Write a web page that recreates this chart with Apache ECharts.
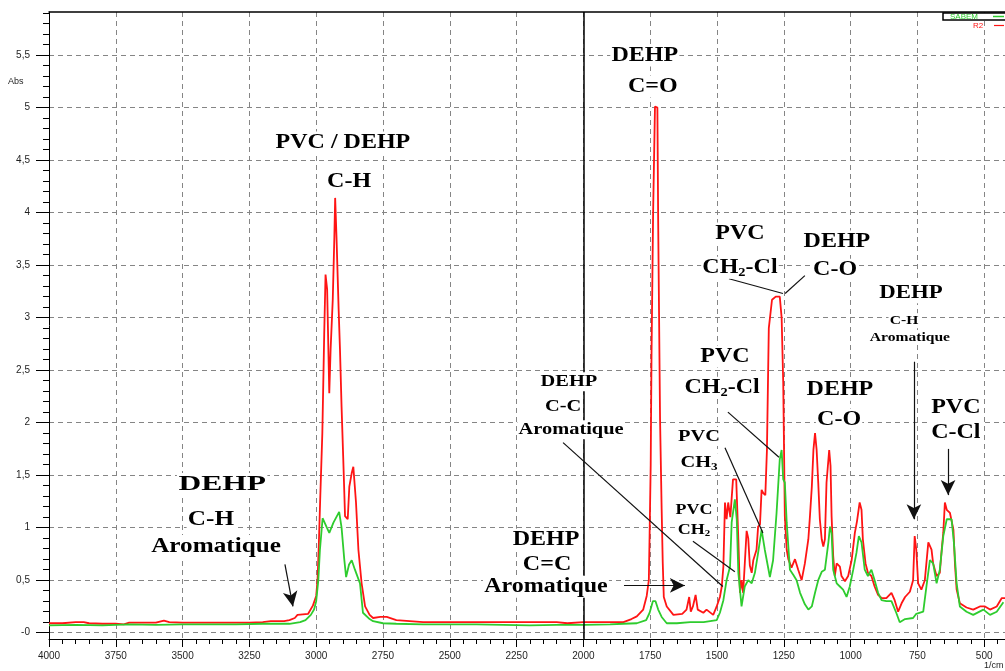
<!DOCTYPE html>
<html><head><meta charset="utf-8">
<script src="https://cdn.jsdelivr.net/npm/echarts@6/dist/echarts.min.js"></script>
<style>html,body{margin:0;padding:0;background:#fff}#c{width:1005px;height:671px}</style>
</head><body><div id="c"></div>
<script>
// ---------- data ----------
const seriesNames = ['SABEM', 'R2'];
const xMajorTicks = [4000, 3750, 3500, 3250, 3000, 2750, 2500, 2250, 2000, 1750, 1500, 1250, 1000, 750, 500];
const yMajorTicks = [0, 0.5, 1, 1.5, 2, 2.5, 3, 3.5, 4, 4.5, 5, 5.5];
const yTickLabels = ['-0', '0,5', '1', '1,5', '2', '2,5', '3', '3,5', '4', '4,5', '5', '5,5'];

// red spectrum (R2): [wavenumber, absorbance]
const redSpectrum = [
[4000,0.09],[3950,0.09],[3900,0.10],[3870,0.10],[3850,0.09],[3800,0.085],[3750,0.085],[3720,0.08],[3700,0.095],
[3650,0.095],[3600,0.095],[3570,0.115],[3550,0.10],[3500,0.095],[3400,0.095],[3300,0.095],[3250,0.095],[3200,0.10],
[3170,0.11],[3150,0.11],[3120,0.11],[3100,0.12],[3080,0.14],[3070,0.17],[3030,0.18],[3012,0.26],[3000,0.35],
[2995,0.5],[2990,0.85],[2985,1.27],[2977,1.9],[2970,2.84],[2965,3.41],[2959,3.27],[2951,2.28],[2946,2.7],[2938,3.17],
[2932,3.77],[2929,4.14],[2924,3.77],[2916,3.08],[2911,2.7],[2905,2.15],[2899,1.68],[2892,1.11],[2882,1.08],[2876,1.39],
[2867,1.52],[2861,1.58],[2851,1.24],[2842,0.79],[2830,0.47],[2817,0.25],[2800,0.17],[2787,0.14],[2760,0.15],[2736,0.15],
[2700,0.12],[2650,0.11],[2600,0.10],[2500,0.10],[2400,0.10],[2300,0.10],[2200,0.10],[2100,0.10],[2060,0.09],[2000,0.10],
[1900,0.10],[1850,0.10],[1820,0.13],[1800,0.155],[1776,0.22],[1763,0.35],[1755,0.5],[1752,0.95],[1748,1.6],[1745,2.63],
[1739,4.0],[1732,5.01],[1723,5.0],[1720,3.9],[1713,2.03],[1707,1.17],[1703,0.67],[1699,0.34],[1688,0.25],[1663,0.17],
[1630,0.18],[1614,0.22],[1604,0.34],[1598,0.2],[1590,0.25],[1580,0.36],[1572,0.22],[1551,0.19],[1539,0.22],[1514,0.17],
[1501,0.25],[1489,0.34],[1482,0.44],[1476,0.63],[1470,1.24],[1464,1.08],[1458,1.24],[1450,1.1],[1440,1.46],[1428,1.46],
[1420,0.89],[1414,0.38],[1408,0.5],[1402,0.38],[1389,0.97],[1383,0.9],[1377,0.64],[1370,0.57],[1364,0.69],[1352,0.79],
[1346,1.01],[1339,1.03],[1333,1.36],[1327,1.33],[1319,1.31],[1313,1.74],[1306,2.9],[1294,3.17],[1280,3.2],[1265,3.2],
[1258,3.0],[1252,2.38],[1246,1.11],[1239,0.79],[1233,0.7],[1221,0.62],[1208,0.7],[1196,0.6],[1183,0.5],[1171,0.66],
[1158,0.89],[1152,1.11],[1145,1.39],[1139,1.74],[1133,1.9],[1127,1.74],[1121,1.43],[1115,1.08],[1108,0.89],[1102,0.82],
[1096,0.89],[1090,1.43],[1080,1.74],[1075,1.59],[1071,1.11],[1065,0.73],[1059,0.54],[1052,0.66],[1040,0.63],[1034,0.54],
[1021,0.49],[1009,0.54],[996,0.69],[984,0.95],[976,1.06],[966,1.24],[959,1.17],[954,0.89],[944,0.66],[935,0.57],
[922,0.54],[910,0.44],[897,0.36],[884,0.33],[866,0.33],[847,0.38],[835,0.31],[822,0.2],[809,0.28],[796,0.34],
[778,0.39],[766,0.5],[760,0.92],[754,0.79],[747,0.47],[735,0.41],[722,0.5],[709,0.86],[697,0.79],[691,0.66],
[678,0.54],[666,0.57],[659,0.79],[653,0.95],[647,1.24],[640,1.17],[628,1.14],[622,1.14],[615,0.98],[609,0.64],
[603,0.41],[591,0.28],[566,0.24],[541,0.22],[516,0.25],[497,0.25],[478,0.22],[453,0.25],[434,0.33],[422,0.33]
];

// green spectrum (SABEM): [wavenumber, absorbance]
const greenSpectrum = [
[4000,0.07],[3900,0.075],[3800,0.07],[3750,0.075],[3700,0.08],[3600,0.075],[3500,0.08],[3400,0.08],[3300,0.08],
[3200,0.085],[3100,0.085],[3060,0.10],[3040,0.12],[3020,0.17],[3008,0.22],[3000,0.3],[2992,0.5],[2986,0.79],[2976,1.09],
[2960,1.0],[2951,0.95],[2935,1.05],[2914,1.15],[2905,1.0],[2895,0.7],[2888,0.53],[2877,0.65],[2867,0.69],[2855,0.6],
[2836,0.47],[2825,0.19],[2800,0.13],[2787,0.11],[2750,0.09],[2700,0.085],[2600,0.08],[2500,0.08],[2400,0.08],[2300,0.075],
[2200,0.07],[2100,0.075],[2000,0.075],[1900,0.08],[1850,0.085],[1800,0.09],[1765,0.12],[1752,0.19],[1740,0.3],[1730,0.3],
[1720,0.22],[1707,0.15],[1688,0.09],[1650,0.09],[1600,0.10],[1550,0.10],[1501,0.12],[1489,0.19],[1476,0.31],[1464,0.5],
[1451,0.63],[1445,1.05],[1433,1.27],[1426,1.08],[1420,0.57],[1408,0.25],[1396,0.44],[1383,0.5],[1370,0.47],[1358,0.57],
[1346,0.76],[1333,0.98],[1321,0.79],[1302,0.53],[1290,0.69],[1277,1.14],[1265,1.65],[1258,1.74],[1252,1.46],[1246,1.43],
[1239,1.05],[1227,0.6],[1214,0.55],[1202,0.5],[1189,0.38],[1171,0.27],[1158,0.22],[1145,0.25],[1133,0.38],[1121,0.5],
[1108,0.58],[1096,0.6],[1083,0.86],[1077,1.01],[1071,0.95],[1065,0.6],[1052,0.47],[1040,0.44],[1028,0.41],[1015,0.34],
[1003,0.44],[990,0.6],[978,0.76],[969,0.92],[959,0.86],[947,0.6],[935,0.54],[922,0.6],[910,0.5],[897,0.38],
[884,0.31],[866,0.3],[847,0.3],[829,0.19],[816,0.1],[796,0.13],[766,0.14],[754,0.18],[728,0.2],[716,0.44],
[703,0.69],[691,0.66],[678,0.47],[666,0.6],[653,0.92],[640,1.08],[622,1.08],[613,0.85],[603,0.47],[591,0.25],
[566,0.2],[541,0.17],[503,0.22],[478,0.17],[453,0.2],[428,0.29]
];

// annotation texts (data coordinates of text centres)
const annotTexts = [
  {t:'DEHP', x:3352, y:1.41, s:21, k:1.5}, {t:'C-H', x:3394, y:1.076, s:21}, {t:'Aromatique', x:3375, y:0.82, s:21},
  {t:'PVC / DEHP', x:2900, y:4.667, s:20}, {t:'C-H', x:2877, y:4.295, s:20},
  {t:'DEHP', x:1770, y:5.495, s:20}, {t:'C=O', x:1740, y:5.2, s:20},
  {t:'PVC', x:1414, y:3.8, s:20}, {t:'CH|2|-Cl', x:1414, y:3.476, s:20},
  {t:'DEHP', x:1051, y:3.724, s:20}, {t:'C-O', x:1058, y:3.457, s:20},
  {t:'DEHP', x:774, y:3.238, s:19}, {t:'C-H', x:800, y:2.971, s:13}, {t:'Aromatique', x:778, y:2.81, s:13},
  {t:'PVC', x:1470, y:2.629, s:20}, {t:'CH|2|-Cl', x:1481, y:2.333, s:20},
  {t:'DEHP', x:1040, y:2.314, s:20}, {t:'C-O', x:1043, y:2.029, s:20},
  {t:'PVC', x:606, y:2.143, s:20}, {t:'C-Cl', x:606, y:1.905, s:20},
  {t:'DEHP', x:2054, y:2.39, s:17}, {t:'C-C', x:2076, y:2.152, s:17}, {t:'Aromatique', x:2046, y:1.933, s:17},
  {t:'PVC', x:1567, y:1.867, s:17}, {t:'CH|3|', x:1567, y:1.619, s:17},
  {t:'PVC', x:1586, y:1.171, s:15}, {t:'CH|2|', x:1586, y:0.981, s:15},
  {t:'DEHP', x:2140, y:0.886, s:20}, {t:'C=C', x:2136, y:0.648, s:20}, {t:'Aromatique', x:2140, y:0.438, s:20}
];
// pointer lines / arrows (data coordinates)
const annotLines = [
  {a:[3117,0.65], b:[3087,0.25], arrow:true},
  {a:[763,2.58], b:[763,1.08], arrow:true},
  {a:[635,1.75], b:[635,1.31], arrow:true},
  {a:[1848,0.45], b:[1620,0.45], arrow:true},
  {a:[1455,3.37], b:[1253,3.23]},
  {a:[1171,3.40], b:[1245,3.23]},
  {a:[1459,2.10], b:[1268,1.67]},
  {a:[2076,1.81], b:[1478,0.44]},
  {a:[1470,1.76], b:[1328,0.95]},
  {a:[1590,0.87], b:[1433,0.58]}
];
const markerLineX = 2000;

// ---------- chart ----------
const xMinorTicks = [];
for (let v = 4000; v >= 450; v -= 50) xMinorTicks.push(v);
const yMinorTicks = [];
for (let i = 0; i <= 59; i++) yMinorTicks.push(Math.round(i) / 10);

const RED = '#ff1414', GREEN = '#2ecc2e';
const X_MIN = 422, X_MAX = 4000, Y_MIN = -0.06, Y_MAX = 5.91;
const chart = echarts.init(document.getElementById('c'), null, {renderer: 'canvas'});

const xBase = {type: 'value', min: X_MIN, max: X_MAX, inverse: true, gridIndex: 0};
const yBase = {type: 'value', min: Y_MIN, max: Y_MAX, gridIndex: 0};

const lineData = annotLines.map(l => [
  {coord: l.a, symbol: 'none'},
  {coord: l.b, symbol: l.arrow ? 'arrow' : 'none', symbolSize: l.arrow ? [11, 15] : 0}
]);

chart.setOption({
  animation: false,
  backgroundColor: '#fff',
  grid: {left: 49, right: 0, top: 12, bottom: 32, containLabel: false},
  xAxis: [
    Object.assign({}, xBase, {
      position: 'bottom',
      axisLine: {show: true, onZero: false, lineStyle: {color: '#000', width: 1}},
      axisTick: {show: true, customValues: xMajorTicks, length: 8, lineStyle: {color: '#000'}},
      axisLabel: {show: true, customValues: xMajorTicks, margin: 12, fontSize: 10, color: '#1e1e1e',
                  fontFamily: 'Liberation Sans', formatter: v => String(v)},
      splitLine: {show: true, lineStyle: {color: '#858585', width: 1, type: [5, 4]}}
    }),
    Object.assign({}, xBase, {
      position: 'bottom',
      axisLine: {show: false, onZero: false},
      axisTick: {show: true, customValues: xMinorTicks, length: 5, lineStyle: {color: '#000'}},
      axisLabel: {show: false},
      splitLine: {show: false}
    }),
    Object.assign({}, xBase, {
      position: 'top',
      axisLine: {show: true, onZero: false, lineStyle: {color: '#000', width: 1.5}},
      axisTick: {show: false}, axisLabel: {show: false}, splitLine: {show: false}
    })
  ],
  yAxis: [
    Object.assign({}, yBase, {
      position: 'left',
      axisLine: {show: true, onZero: false, lineStyle: {color: '#000', width: 1}},
      axisTick: {show: true, customValues: yMajorTicks, length: 13, lineStyle: {color: '#000'}},
      axisLabel: {show: true, customValues: yMajorTicks, margin: 19, fontSize: 10, color: '#1e1e1e',
                  fontFamily: 'Liberation Sans',
                  formatter: v => yTickLabels[yMajorTicks.indexOf(Math.round(v * 10) / 10)]},
      splitLine: {show: true, lineStyle: {color: '#858585', width: 1, type: [5, 4]}}
    }),
    Object.assign({}, yBase, {
      position: 'left',
      axisLine: {show: false, onZero: false},
      axisTick: {show: true, customValues: yMinorTicks, length: 6, lineStyle: {color: '#000'}},
      axisLabel: {show: false}, splitLine: {show: false}
    })
  ],
  series: [
    {
      name: seriesNames[1], type: 'line', xAxisIndex: 0, yAxisIndex: 0,
      data: redSpectrum, showSymbol: false, symbol: 'none', z: 3,
      lineStyle: {color: RED, width: 1.8}, itemStyle: {color: RED},
      markLine: {
        silent: true, symbol: 'none', animation: false, z: 5,
        label: {show: false},
        lineStyle: {color: '#000', width: 1.5, type: 'solid'},
        emphasis: {disabled: true},
        data: [{xAxis: markerLineX}]
      }
    },
    {
      name: seriesNames[0], type: 'line', xAxisIndex: 0, yAxisIndex: 0,
      data: greenSpectrum, showSymbol: false, symbol: 'none', z: 4,
      lineStyle: {color: GREEN, width: 1.8}, itemStyle: {color: GREEN},
      markLine: {
        silent: true, animation: false, z: 6,
        label: {show: false},
        lineStyle: {color: '#111', width: 1.2, type: 'solid'},
        emphasis: {disabled: true},
        data: lineData
      }
    }
  ]
});

function richText(t, size) {
  const parts = t.split('|');
  const base = {fontSize: size, fontWeight: 'bold', fontFamily: 'Liberation Serif', color: '#161620', lineHeight: size + 2};
  const sub = {fontSize: Math.round(size * 0.62), fontWeight: 'bold', fontFamily: 'Liberation Serif', color: '#161620',
               verticalAlign: 'bottom', lineHeight: 6};
  let s = '';
  parts.forEach((p, i) => { if (p) s += (i % 2 ? '{s|' : '{n|') + p + '}'; });
  return {text: s, rich: {n: base, s: sub}};
}

const graphics = annotTexts.map(a => {
  const p = chart.convertToPixel({xAxisIndex: 0, yAxisIndex: 0}, [a.x, a.y]);
  const r = richText(a.t, a.s);
  return {
    type: 'text', x: p[0], y: p[1], z: 100, silent: true, scaleX: a.k || 1.2,
    style: {text: r.text, rich: r.rich, align: 'center', verticalAlign: 'middle',
            backgroundColor: '#fff', padding: [0, 1]}
  };
});

// axis name / unit texts and legend
graphics.push({type: 'text', left: 8, top: 77, z: 100, style: {text: 'Abs', fontSize: 9, fontFamily: 'Liberation Sans', fill: '#1e1e1e'}});
graphics.push({type: 'text', left: 984, top: 661, z: 100, style: {text: '1/cm', fontSize: 9, fontFamily: 'Liberation Sans', fill: '#1e1e1e'}});
graphics.push({type: 'rect', shape: {x: 943, y: 13, width: 70, height: 7}, z: 100, style: {fill: '#fff', stroke: '#000', lineWidth: 1.5}});
graphics.push({type: 'text', x: 950, y: 16.5, z: 101, style: {text: seriesNames[0], fontSize: 8, fontFamily: 'Liberation Sans', fill: GREEN, verticalAlign: 'middle'}});
graphics.push({type: 'line', shape: {x1: 993, y1: 16.5, x2: 1004, y2: 16.5}, z: 101, style: {stroke: GREEN, lineWidth: 1.5}});
graphics.push({type: 'text', x: 973, y: 25.5, z: 101, style: {text: seriesNames[1], fontSize: 8, fontFamily: 'Liberation Sans', fill: RED, verticalAlign: 'middle'}});
graphics.push({type: 'line', shape: {x1: 994, y1: 25.5, x2: 1004, y2: 25.5}, z: 101, style: {stroke: RED, lineWidth: 1.2}});

chart.setOption({graphic: graphics});
</script>
</body></html>
